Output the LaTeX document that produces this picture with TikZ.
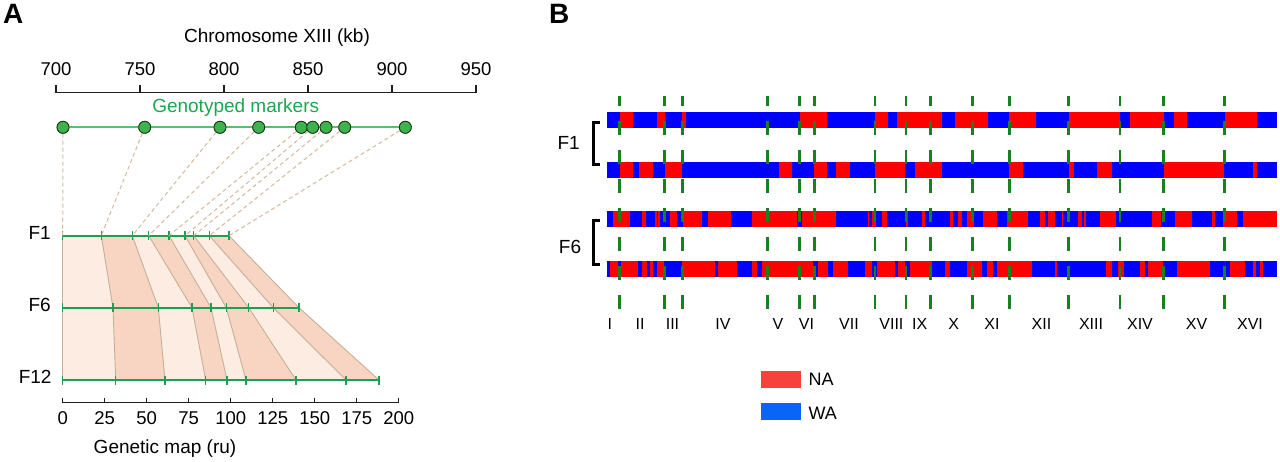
\documentclass[tikz,border=0pt]{standalone}
\usepackage{fontspec}
\setmainfont{Liberation Sans}
\definecolor{fgreen}{RGB}{30,158,82}
\definecolor{mline}{RGB}{90,192,100}
\definecolor{mfill}{RGB}{62,178,76}
\definecolor{mdraw}{RGB}{25,55,25}
\definecolor{gtext}{RGB}{30,165,80}
\definecolor{tan}{RGB}{212,184,156}
\definecolor{bandL}{RGB}{253,236,226}
\definecolor{bandD}{RGB}{248,212,194}
\definecolor{bandE}{RGB}{196,176,150}
\definecolor{redB}{RGB}{255,0,0}
\definecolor{blueB}{RGB}{0,0,255}
\definecolor{dgreen}{RGB}{24,128,30}
\definecolor{legR}{RGB}{245,66,58}
\definecolor{legB}{RGB}{10,100,245}
\begin{document}
\begin{tikzpicture}[x=1pt,y=-1pt,
  txt/.style={inner sep=0pt, anchor=base, font=\fontsize{19}{22}\selectfont},
  ticklab/.style={inner sep=0pt, anchor=base, font=\fontsize{18.5}{22}\selectfont},
  romlab/.style={inner sep=0pt, anchor=base, font=\fontsize{16}{19}\selectfont},
  panel/.style={inner sep=0pt, anchor=base west, font=\fontsize{28}{30}\selectfont\bfseries},
  axisline/.style={draw=black!88, line width=1.4pt},
  fline/.style={draw=fgreen, line width=2pt},
  marker/.style={circle, draw=mdraw, fill=mfill, line width=0.8pt, minimum size=12pt, inner sep=0pt},
  tandash/.style={draw=tan, line width=1pt, dash pattern=on 4pt off 3pt},
  bandedge/.style={draw=bandE, line width=0.9pt},
  chrdash/.style={draw=dgreen, line width=2.6pt, dash pattern=on 14pt off 15pt, dash phase=4pt},
  brk/.style={draw=black, line width=3pt}]
\useasboundingbox (0,0) rectangle (1280,462);

% ---------------- Panel A ----------------
\node[panel] (pA) at (3,23.5) {A};
\node[txt] (chrt) at (277,42.5) {Chromosome XIII (kb)};
\draw[axisline] (56,92.7) -- (476,92.7);
\foreach \v [count=\k from 0] in {700,750,800,850,900,950}{
  \draw[axisline] (56+84*\k,85) -- (56+84*\k,92.7);
  \node[ticklab] (tk\k) at (56+84*\k,76) {\v};
}
\node[txt, text=gtext] (gm) at (235.7,112.3) {Genotyped markers};

% coordinates on genetic maps
\foreach \x [count=\i] in {62.7,101.3,132.3,148.7,169,185,193.7,209.3,229}
  \coordinate (a\i) at (\x,235.7);
\foreach \x [count=\i] in {62.7,113,158.3,192,211,226.3,248.7,273.3,299}
  \coordinate (b\i) at (\x,307.7);
\foreach \x [count=\i] in {62.7,115.7,165,205.7,227,246,296,346,379}
  \coordinate (c\i) at (\x,380);

% bands
\foreach \i/\j/\c in {1/2/bandL,2/3/bandD,3/4/bandL,4/5/bandD,5/6/bandL,6/7/bandD,7/8/bandL,8/9/bandD}
  \fill[\c] (a\i) -- (a\j) -- (b\j) -- (c\j) -- (c\i) -- (b\i) -- cycle;
\foreach \i in {1,...,9}
  \draw[bandedge] (a\i) -- (b\i) -- (c\i);

% genetic map lines
\foreach \r in {a,b,c}{
  \draw[fline] (\r1) -- (\r9);
  \foreach \i in {1,...,9}
    \draw[draw=fgreen, line width=1.4pt] ([yshift=4.5pt]\r\i) -- ([yshift=-4.5pt]\r\i);
}
\node[txt, anchor=base east] (lF1) at (51,240) {F1};
\node[txt, anchor=base east] (lF6) at (51,311.7) {F6};
\node[txt, anchor=base east] (lF12) at (51.7,383.5) {F12};

% markers
\foreach \x [count=\i] in {63,144.7,220,258.7,301.3,312.7,326,344.7,405.3}
  \node[marker] (m\i) at (\x,127.3) {};
\draw[draw=mline, line width=1.8pt] (m1) -- (m2) -- (m3) -- (m4) -- (m5) -- (m6) -- (m7) -- (m8) -- (m9);
\foreach \i in {1,...,9}
  \draw[tandash] (m\i) -- (a\i);
\foreach \i in {1,...,9}
  \node[marker] (mm\i) at (m\i) {};

% bottom axis
\draw[axisline] (62.7,402.7) -- (398.7,402.7);
\foreach \v [count=\k from 0] in {0,25,50,75,100,125,150,175,200}{
  \draw[axisline] (62.7+42*\k,397.5) -- (62.7+42*\k,402.7);
  \node[ticklab] (bk\k) at (62.7+42*\k,424) {\v};
}
\node[txt] (gmap) at (165,453) {Genetic map (ru)};

% ---------------- Panel B ----------------
\node[panel] (pB) at (549,24) {B};

% F1 bar a
\fill[blueB] (607.3,112.5) rectangle (1276.7,128.5);
\foreach \p/\q in {620/633.3,656.7/665,682.3/685.7,799.7/827.3,875/887.7,896.7/942.3,955/988.3,1009.3/1036,1068.7/1120,1130/1163.7,1174.3/1186.7,1225/1257.3}
  \fill[redB] (\p,112.5) rectangle (\q,128.5);
% F1 bar b
\fill[blueB] (607.3,162) rectangle (1276.7,178);
\foreach \p/\q in {620/633.3,639.3/652.7,665/682.3,778.7/791.7,814.3/827.3,836/850,875/905,915/942.3,1009.3/1023.3,1068.7/1074,1096.7/1112,1163.7/1224.3,1253.3/1257.3}
  \fill[redB] (\p,162) rectangle (\q,178);
% F6 bar a
\fill[blueB] (607.3,211) rectangle (1276.7,227);
\foreach \p/\q in {613.3/630,641.7/645.7,655/656.5,658/659.5,670/676.7,683.3/702.3,707.7/731,752.3/796.7,801.7/836,868/869,871.7/875.7,881.7/886.7,906/908,921.7/925,950/953.3,958.3/961.7,967/974,983.3/996.7,1006.7/1028.3,1040/1045,1048/1055,1061.7/1063.3,1078.3/1081.7,1084/1086,1100/1116,1152/1161,1175/1191.7,1211.7/1214.5,1223.3/1236.7,1242.7/1276.7}
  \fill[redB] (\p,211) rectangle (\q,227);
% F6 bar b
\fill[blueB] (607.3,260.7) rectangle (1276.7,276.7);
\foreach \p/\q in {610/618.3,621/638.3,641.7/646.7,650/653,657/664,682.3/715,718.3/736.7,751.7/756.7,761.7/813,818.3/828,833/848,865/871.7,876.7/895,898/905,910/931.7,945/950,967/982,986.7/993.3,996.7/1031.7,1055/1056.7,1106/1112,1118/1124,1140/1145,1148/1163.3,1176.7/1210,1230/1245,1253/1256,1260/1263}
  \fill[redB] (\p,260.7) rectangle (\q,276.7);

% chromosome boundaries
\foreach \x [count=\i] in {619.3,664.7,682.3,767.7,799.7,814.3,875,906,930.7,972.3,1009.3,1068.7,1120,1163.7,1224.7}{
  \coordinate (s\i) at (\x,96);
  \coordinate (e\i) at (\x,310);
  \draw[chrdash] (s\i) -- (e\i);
}
\foreach \x/\t [count=\i] in {609.8/I,640/II,672.5/III,723/IV,778/V,806.5/VI,849/VII,891.4/VIII,919.7/IX,953.7/X,992/XI,1041.4/XII,1091/XIII,1140/XIV,1196.6/XV,1250/XVI}
  \node[romlab] (r\i) at (\x,329.7) {\t};

% brackets and labels
\draw[brk] (600,122.5) -- (593,122.5) -- (593,165) -- (600,165);
\draw[brk] (600,221) -- (593,221) -- (593,265) -- (600,265);
\node[txt] (bF1) at (568.7,150) {F1};
\node[txt] (bF6) at (570,253.3) {F6};

% legend
\fill[legR] (760.7,371) rectangle (801,387.7);
\fill[legB] (760.7,403.3) rectangle (801,420);
\node[txt, anchor=base west, font=\fontsize{18}{21}\selectfont] (lNA) at (808.3,385.5) {NA};
\node[txt, anchor=base west, font=\fontsize{18}{21}\selectfont] (lWA) at (808.3,419) {WA};
\end{tikzpicture}
\end{document}
